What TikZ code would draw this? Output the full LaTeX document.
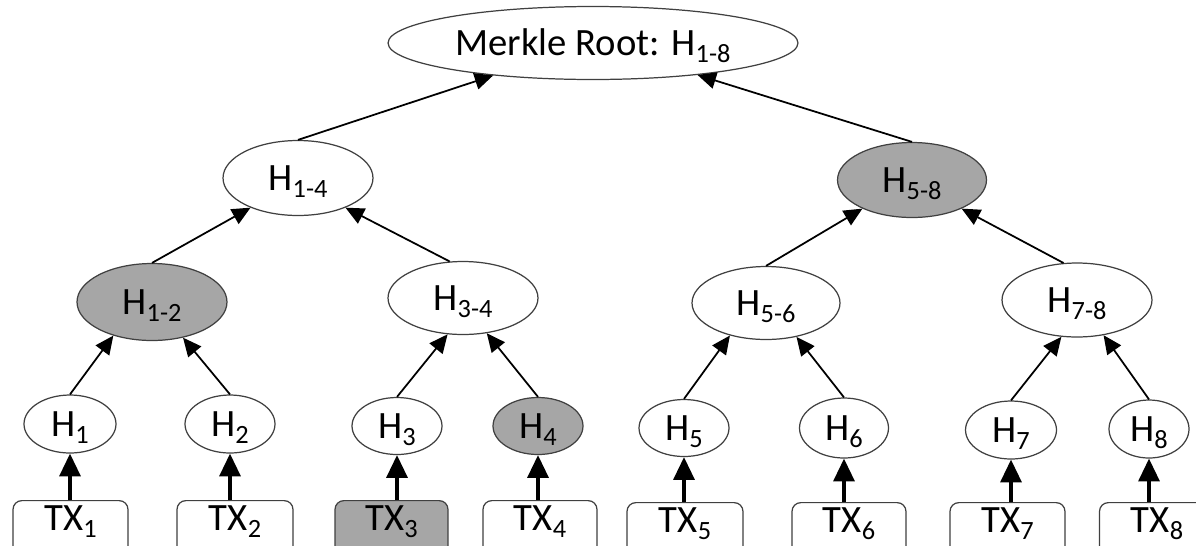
\documentclass[tikz,border=0pt]{standalone}
\usepackage{fontspec}
\setmainfont{Carlito}
\usetikzlibrary{shapes.geometric,arrows.meta}
\definecolor{nodeline}{RGB}{64,64,64}
\definecolor{hashshade}{RGB}{166,166,166}
% lowered, smaller index used in every hash label
\newcommand\hsub[1]{\raisebox{-4pt}{\fontsize{15pt}{15pt}\selectfont #1}}

\begin{document}
\begin{tikzpicture}[x=0.02cm,y=-0.02cm,
  lbl/.style={font=\fontsize{22pt}{26pt}\selectfont, inner sep=0pt, text height=13.9pt, text depth=0pt},
  hash/.style={lbl, ellipse, draw=nodeline, line width=0.7pt, fill=white},
  picked/.style={fill=hashshade},
  txbox/.style={lbl, rectangle, rounded corners=5pt, draw=nodeline, line width=0.7pt,
                fill=white, anchor=north, text height=0.6cm, text depth=0.5cm},
  link/.style={-{Triangle[length=10.5pt,width=9.5pt]}, line width=1pt},
  feed/.style={-{Triangle[length=13pt,width=12pt]}, line width=1.8pt}
]
\path[use as bounding box, fill=white] (0,0) rectangle (1196,545);

% root
\node[hash, minimum width=8.2cm, minimum height=1.46cm] (root) at (593,43) {Merkle Root: H\hsub{1-8}};

% upper levels
\node[hash, minimum width=3cm, minimum height=1.5cm] (h14) at (298,178) {H\hsub{1-4}};
\node[hash, picked, minimum width=2.98cm, minimum height=1.5cm] (h58) at (912,180) {H\hsub{5-8}};
\node[hash, picked, minimum width=3cm, minimum height=1.54cm] (h12) at (152,302) {H\hsub{1-2}};
\node[hash, minimum width=3cm, minimum height=1.46cm] (h34) at (463,298) {H\hsub{3-4}};
\node[hash, minimum width=2.96cm, minimum height=1.46cm] (h56) at (766,303) {H\hsub{5-6}};
\node[hash, minimum width=3cm, minimum height=1.48cm] (h78) at (1077,300) {H\hsub{7-8}};

% leaf hashes
\node[hash, minimum width=1.84cm, minimum height=1.16cm] (h1) at (70,424) {H\hsub{1}};
\node[hash, minimum width=1.8cm, minimum height=1.16cm] (h2) at (230,424) {H\hsub{2}};
\node[hash, minimum width=1.8cm, minimum height=1.14cm] (h3) at (397,426) {H\hsub{3}};
\node[hash, picked, minimum width=1.8cm, minimum height=1.14cm] (h4) at (538,426) {H\hsub{4}};
\node[hash, minimum width=1.8cm, minimum height=1.14cm] (h5) at (684,428) {H\hsub{5}};
\node[hash, minimum width=1.78cm, minimum height=1.2cm] (h6) at (844,428) {H\hsub{6}};
\node[hash, minimum width=1.82cm, minimum height=1.16cm] (h7) at (1011,430) {H\hsub{7}};
\node[hash, minimum width=1.6cm, minimum height=1.16cm] (h8) at (1149,429) {H\hsub{8}};

% transactions
\node[txbox, minimum width=2.3cm] (tx1) at (70.5,500) {TX\hsub{1}};
\node[txbox, minimum width=2.32cm] (tx2) at (235,500) {TX\hsub{2}};
\node[txbox, picked, minimum width=2.26cm] (tx3) at (391.5,500) {TX\hsub{3}};
\node[txbox, minimum width=2.28cm] (tx4) at (540,500) {TX\hsub{4}};
\node[txbox, minimum width=2.32cm] (tx5) at (685,502) {TX\hsub{5}};
\node[txbox, minimum width=2.28cm] (tx6) at (849,502) {TX\hsub{6}};
\node[txbox, minimum width=2.3cm] (tx7) at (1007.5,502) {TX\hsub{7}};
\node[txbox, minimum width=2.3cm] (tx8) at (1157,502) {TX\hsub{8}};

% hash links
\draw[link] (h14.north) -- (root.198);
\draw[link] (h58.north) -- (root.343);
\draw[link] (h12.north) -- (h14.212);
\draw[link] (h34.110) -- (h14.328);
\draw[link] (h56.north) -- (h58.210);
\draw[link] (h78.110) -- (h58.330);
\draw[link] (h1.north) -- (h12.221);
\draw[link] (h2.north) -- (h12.311);
\draw[link] (h3.north) -- (h34.247);
\draw[link] (h4.north) -- (h34.304);
\draw[link] (h5.north) -- (h56.222);
\draw[link] (h6.north) -- (h56.312);
\draw[link] (h7.north) -- (h78.247);
\draw[link] (h8.north) -- (h78.307);

% transaction feeds
\foreach \k in {1,...,8}
  \draw[feed] (h\k.south |- tx\k.north) -- (h\k.south);
\end{tikzpicture}
\end{document}
